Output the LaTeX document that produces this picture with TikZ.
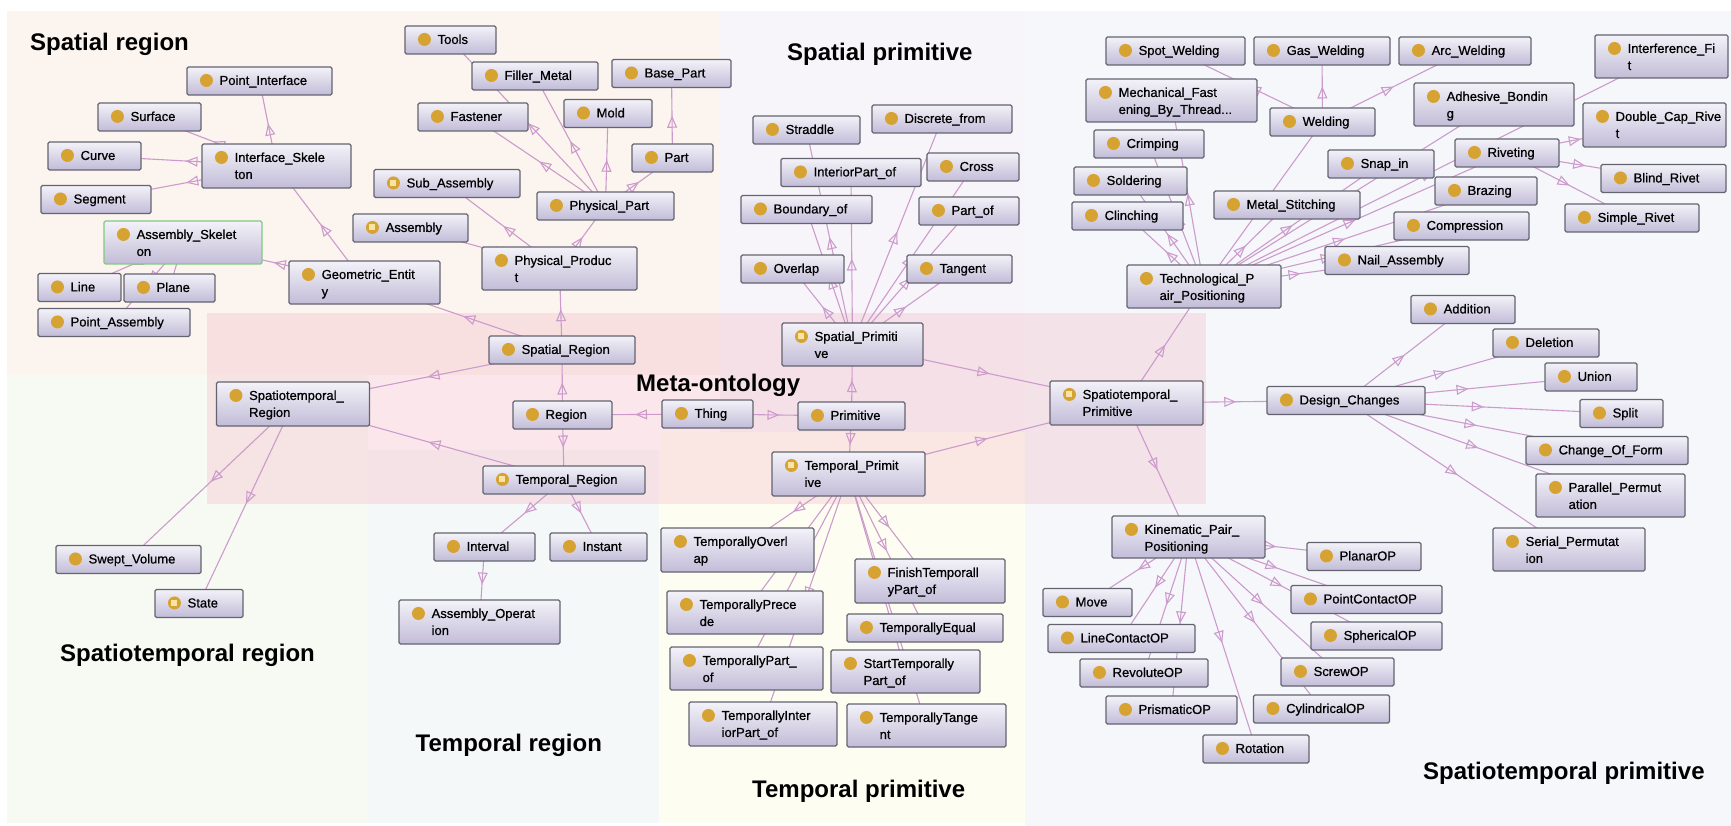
\documentclass[tikz,border=0pt]{standalone}
\usepackage{fontspec}
\setmainfont{Liberation Sans}
\newfontfamily\nodefont[FakeBold=0.7]{Liberation Sans}
\usetikzlibrary{arrows.meta,decorations.markings,backgrounds}
\definecolor{edgec}{RGB}{204,155,204}
\definecolor{boxtop}{RGB}{243,242,248}
\definecolor{boxbot}{RGB}{194,188,216}
\definecolor{boxline}{RGB}{100,100,112}
\definecolor{gold}{RGB}{214,163,50}
\definecolor{goldin}{RGB}{248,228,165}
\definecolor{greenb}{RGB}{130,200,130}
\definecolor{pSR}{RGB}{252,244,238}
\definecolor{pSP}{RGB}{247,245,250}
\definecolor{pSTP}{RGB}{245,247,251}
\definecolor{pSTR}{RGB}{247,250,243}
\definecolor{pTR}{RGB}{245,248,249}
\definecolor{pTP}{RGB}{254,253,242}
\definecolor{pink}{RGB}{242,178,192}
\tikzset{
 cbox/.style={rectangle, draw=boxline, line width=1.1pt, rounded corners=1.5pt, top color=boxtop, bottom color=boxbot, inner sep=0},
 ctext/.style={anchor=base west, inner sep=0, font=\nodefont\fontsize{13}{17}\selectfont},
 ttl/.style={anchor=base west, inner sep=0, font=\fontsize{24}{28}\selectfont\bfseries},
 edge/.style={draw=edgec, line width=1.1pt, postaction={decorate},
   decoration={markings, mark=at position 0.5 with {\arrow{Triangle[open,length=12pt,width=10pt,line width=1.1pt]}}}},
 greenbox/.style={draw=greenb}
}
\newcommand\cls[8]{%
  \node[cbox,#8,minimum width=#4pt,minimum height=#5pt] (#1) at (#2,#3) {};
  \fill[gold] ([xshift=20pt,yshift=-14pt]#1.north west) circle (6.5pt);
  \node[ctext] at ([xshift=33pt,yshift=-18.5pt]#1.north west) {#6};
  \node[ctext] at ([xshift=33pt,yshift=-35.5pt]#1.north west) {#7};
}
\newcommand\dic[1]{\fill[goldin] ([xshift=17pt,yshift=-17pt]#1.north west) rectangle ++(6pt,6pt);}
\newcommand\E[2]{\foreach \cc in {#2}{\draw[edge] (#1.center) -- (\cc.center);}}
\begin{document}
\begin{tikzpicture}[x=1pt,y=-1pt]
\useasboundingbox (0,0) rectangle (1731,826);
% ---------- Spatial region ----------
\cls{pint}{259.5}{81}{145}{28}{Point\_Interface}{}{}
\cls{surf}{149.5}{117}{103}{28}{Surface}{}{}
\cls{curve}{94.5}{156}{93}{28}{Curve}{}{}
\cls{iskel}{276.5}{166}{149}{44}{Interface\_Skele}{ton}{}
\cls{seg}{96}{199.5}{110}{28}{Segment}{}{}
\cls{askel}{183}{242.5}{158}{43}{Assembly\_Skelet}{on}{greenbox}
\cls{nline}{79.5}{287.5}{83}{28}{Line}{}{}
\cls{plane}{169.5}{288}{91}{28}{Plane}{}{}
\cls{passm}{114}{322.5}{152}{28}{Point\_Assembly}{}{}
\cls{geo}{364.5}{282.5}{151}{43}{Geometric\_Entit}{y}{}
\cls{tools}{450.5}{40}{91}{28}{Tools}{}{}
\cls{filler}{535}{76}{126}{28}{Filler\_Metal}{}{}
\cls{base}{671.5}{73.5}{119}{28}{Base\_Part}{}{}
\cls{fast}{473}{117}{110}{28}{Fastener}{}{}
\cls{mold}{608}{113.5}{88}{28}{Mold}{}{}
\cls{part}{672.5}{158}{81}{28}{Part}{}{}
\cls{subas}{447}{183.5}{146}{28}{Sub\_Assembly}{}{}\dic{subas}
\cls{ppart}{605.5}{206}{137}{28}{Physical\_Part}{}{}
\cls{assem}{410.5}{228}{115}{28}{Assembly}{}{}\dic{assem}
\cls{pprod}{559.5}{268.5}{155}{43}{Physical\_Produc}{t}{}
% ---------- Spatial primitive ----------
\cls{strad}{806.5}{130}{107}{28}{Straddle}{}{}
\cls{disc}{942}{119}{140}{28}{Discrete\_from}{}{}
\cls{intp}{851}{172.5}{140}{28}{InteriorPart\_of}{}{}
\cls{cross}{973}{167}{92}{28}{Cross}{}{}
\cls{bound}{806.5}{209.5}{131}{28}{Boundary\_of}{}{}
\cls{partof}{969}{211}{100}{28}{Part\_of}{}{}
\cls{overl}{792.5}{269}{103}{28}{Overlap}{}{}
\cls{tang}{959.5}{269}{105}{28}{Tangent}{}{}
\cls{sprim}{852.5}{344.5}{141}{43}{Spatial\_Primiti}{ve}{}\dic{sprim}
% ---------- Meta ----------
\cls{sreg}{562}{350}{146}{28}{Spatial\_Region}{}{}
\cls{streg}{293}{404}{153}{44}{Spatiotemporal\_}{Region}{}
\cls{region}{562.5}{415}{99}{28}{Region}{}{}
\cls{thing}{707.5}{414}{91}{28}{Thing}{}{}
\cls{prim}{851.5}{416}{107}{28}{Primitive}{}{}
\cls{treg}{564}{480}{162}{28}{Temporal\_Region}{}{}\dic{treg}
\cls{tprim}{848.5}{474}{153}{44}{Temporal\_Primit}{ive}{}\dic{tprim}
\cls{stprim}{1126.5}{403}{153}{44}{Spatiotemporal\_}{Primitive}{}\dic{stprim}
% ---------- Temporal / spatiotemporal region ----------
\cls{interval}{484.5}{547}{101}{28}{Interval}{}{}
\cls{instant}{598.5}{547}{97}{28}{Instant}{}{}
\cls{aop}{479.5}{622}{161}{44}{Assembly\_Operat}{ion}{}
\cls{swept}{128.5}{559.5}{145}{28}{Swept\_Volume}{}{}
\cls{state}{199}{603.5}{88}{28}{State}{}{}\dic{state}
% ---------- Temporal primitive ----------
\cls{tover}{737.5}{550}{153}{44}{TemporallyOverl}{ap}{}
\cls{finish}{930}{581}{150}{44}{FinishTemporall}{yPart\_of}{}
\cls{tprec}{745}{612.5}{156}{43}{TemporallyPrece}{de}{}
\cls{tequal}{925}{628}{156}{28}{TemporallyEqual}{}{}
\cls{tpartof}{746.5}{668.5}{153}{43}{TemporallyPart\_}{of}{}
\cls{start}{905.5}{671.5}{149}{43}{StartTemporally}{Part\_of}{}
\cls{tint}{763}{724}{148}{44}{TemporallyInter}{iorPart\_of}{}
\cls{ttang}{926.5}{725.5}{159}{43}{TemporallyTange}{nt}{}
% ---------- Spatiotemporal primitive ----------
\cls{spot}{1175.5}{51}{139}{28}{Spot\_Welding}{}{}
\cls{gas}{1322}{51}{136}{28}{Gas\_Welding}{}{}
\cls{arc}{1465}{51}{132}{28}{Arc\_Welding}{}{}
\cls{interf}{1661.5}{56.5}{133}{43}{Interference\_Fi}{t}{}
\cls{mech}{1171.5}{100.5}{171}{43}{Mechanical\_Fast}{ening\_By\_Thread...}{}
\cls{weld}{1322.5}{122}{105}{28}{Welding}{}{}
\cls{adhes}{1494}{104.5}{160}{43}{Adhesive\_Bondin}{g}{}
\cls{dcap}{1654.5}{125}{143}{44}{Double\_Cap\_Rive}{t}{}
\cls{crimp}{1149}{144}{110}{28}{Crimping}{}{}
\cls{rivet}{1507}{153}{104}{28}{Riveting}{}{}
\cls{snap}{1381}{164}{106}{28}{Snap\_in}{}{}
\cls{blind}{1663.5}{178.5}{125}{28}{Blind\_Rivet}{}{}
\cls{solder}{1130.5}{181}{113}{28}{Soldering}{}{}
\cls{braz}{1486}{191}{102}{28}{Brazing}{}{}
\cls{metal}{1287}{205}{146}{28}{Metal\_Stitching}{}{}
\cls{clinch}{1127.5}{216}{111}{28}{Clinching}{}{}
\cls{simple}{1632}{218}{134}{28}{Simple\_Rivet}{}{}
\cls{compr}{1461.5}{226}{135}{28}{Compression}{}{}
\cls{nail}{1397}{260.5}{144}{28}{Nail\_Assembly}{}{}
\cls{tech}{1204}{286.5}{154}{43}{Technological\_P}{air\_Positioning}{}
\cls{addit}{1463}{309.5}{104}{28}{Addition}{}{}
\cls{delet}{1546}{343}{106}{28}{Deletion}{}{}
\cls{union}{1591}{377}{92}{28}{Union}{}{}
\cls{dchg}{1346}{400.5}{158}{28}{Design\_Changes}{}{}
\cls{split}{1621.5}{413.5}{83}{28}{Split}{}{}
\cls{chform}{1607}{450.5}{162}{28}{Change\_Of\_Form}{}{}
\cls{parperm}{1610.5}{495.5}{149}{43}{Parallel\_Permut}{ation}{}
\cls{serperm}{1569}{549.5}{152}{43}{Serial\_Permutat}{ion}{}
\cls{kin}{1188.5}{537}{153}{42}{Kinematic\_Pair\_}{Positioning}{}
\cls{planar}{1364}{556.5}{114}{28}{PlanarOP}{}{}
\cls{move}{1087.5}{602.5}{89}{28}{Move}{}{}
\cls{pcont}{1366.5}{599.5}{151}{28}{PointContactOP}{}{}
\cls{lcont}{1121.5}{638.5}{147}{28}{LineContactOP}{}{}
\cls{spher}{1376.5}{636}{131}{28}{SphericalOP}{}{}
\cls{revol}{1144}{673}{128}{28}{RevoluteOP}{}{}
\cls{screw}{1337.5}{672}{113}{28}{ScrewOP}{}{}
\cls{prism}{1171.5}{710}{131}{28}{PrismaticOP}{}{}
\cls{cyl}{1321.5}{709}{136}{28}{CylindricalOP}{}{}
\cls{rot}{1256}{749}{106}{28}{Rotation}{}{}
% ---------- titles ----------
\node[ttl] (t1) at (30,51) {Spatial region};
\node[ttl] (t2) at (787,61) {Spatial primitive};
\node[ttl] (t3) at (636,391) {Meta-ontology};
\node[ttl] (t4) at (60,661) {Spatiotemporal region};
\node[ttl] (t5) at (415.5,751) {Temporal region};
\node[ttl] (t6) at (752,797) {Temporal primitive};
\node[ttl] (t7) at (1423,779) {Spatiotemporal primitive};
% ---------- background + edges ----------
\begin{pgfonlayer}{background}
\fill[white] (0,0) rectangle (1731,826);
\fill[pSR] (7,11) rectangle (720,375);
\fill[pSP] (720,11) rectangle (1025,432);
\fill[pSTP] (1025,11) rectangle (1731,826);
\fill[pSTR] (7,375) rectangle (368,823);
\fill[pTR] (368,450) rectangle (659,823);
\fill[pTP] (659,432) rectangle (1025,823);
\fill[pink,opacity=0.3] (207,313) rectangle (1206,504);
\E{thing}{region,prim}
\E{region}{sreg,treg}
\E{sreg}{streg,pprod,geo}
\E{treg}{streg,interval,instant}
\E{prim}{sprim,tprim}
\E{sprim}{stprim,strad,disc,intp,cross,bound,partof,overl,tang}
\E{tprim}{stprim,tover,tprec,tpartof,tint,finish,tequal,start,ttang}
\E{stprim}{tech,kin,dchg}
\E{pprod}{ppart,subas,assem}
\E{ppart}{tools,filler,fast,mold,part}
\E{part}{base}
\E{geo}{iskel,askel}
\E{iskel}{pint,surf,curve,seg}
\E{askel}{nline,plane,passm}
\E{streg}{swept,state}
\E{interval}{aop}
\E{tech}{weld,mech,crimp,solder,clinch,metal,snap,adhes,rivet,braz,compr,nail,interf}
\E{weld}{spot,gas,arc}
\E{rivet}{dcap,blind,simple}
\E{dchg}{addit,delet,union,split,chform,parperm,serperm}
\E{kin}{planar,move,pcont,lcont,spher,revol,screw,prism,cyl,rot}
\end{pgfonlayer}
\end{tikzpicture}
\end{document}
